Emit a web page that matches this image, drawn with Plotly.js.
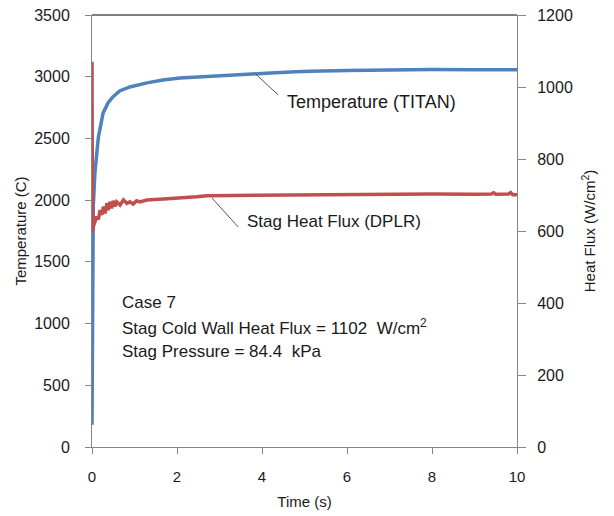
<!DOCTYPE html>
<html>
<head>
<meta charset="utf-8">
<script src="https://cdn.plot.ly/plotly-3.0.1.min.js"></script>
<style>html,body{margin:0;padding:0;background:#fff;}#chart{width:614px;height:516px;}</style>
</head>
<body>
<div id="chart"></div>
<script>
// Temperature (TITAN), left axis, deg C
const tempTime = [0, 0.005, 0.012, 0.03, 0.07, 0.15, 0.26, 0.38, 0.49, 0.65, 0.89, 1.1, 1.29, 1.67, 2.07, 2.5, 2.85, 3.2, 3.64, 4.2, 4.8, 5.13, 6.0, 7.2, 8.0, 9.0, 10.0];
const tempValues = [180, 900, 1700, 1950, 2230, 2510, 2705, 2790, 2836, 2885, 2917, 2935, 2950, 2974, 2990, 2998, 3006, 3012, 3022, 3030, 3040, 3045, 3050, 3058, 3058, 3057, 3056];

// Stag Heat Flux (DPLR), right axis, W/cm2
const fluxTime = [0, 0.004, 0.01, 0.03, 0.06, 0.11, 0.15, 0.19, 0.23, 0.27, 0.31, 0.35, 0.38, 0.42, 0.46, 0.5, 0.54, 0.58, 0.66, 0.74, 0.82, 0.89, 0.97, 1.05, 1.13, 1.29, 1.68, 2.07, 2.46, 2.7, 3.5, 4.5, 5.5, 6.5, 7.2, 8.0, 9.0, 9.4, 9.45, 9.5, 9.8, 9.85, 9.9, 10.0];
const fluxValues = [1070, 800, 598, 612, 625, 640, 632, 658, 645, 668, 649, 677, 658, 681, 663, 684, 668, 681, 672, 686, 677, 681, 675, 684, 681, 686, 689, 691, 695, 698, 699, 700, 701, 701, 703, 703, 702, 703, 706, 702, 703, 707, 701, 701];

const xTicks = [0, 2, 4, 6, 8, 10];
const yTicks = [0, 500, 1000, 1500, 2000, 2500, 3000, 3500];
const y2Ticks = [0, 200, 400, 600, 800, 1000, 1200];

const FONT = 'Liberation Sans, Arial, sans-serif';
const TXT = '#1a1a1a';
const AX = '#868686';

const traces = [
  {x: tempTime, y: tempValues, type: 'scatter', mode: 'lines', name: 'Temperature (TITAN)',
   line: {color: '#4F81BD', width: 3.5}, yaxis: 'y'},
  {x: fluxTime, y: fluxValues, type: 'scatter', mode: 'lines', name: 'Stag Heat Flux (DPLR)',
   line: {color: '#C0504D', width: 3.5}, yaxis: 'y2'}
];

const layout = {
  width: 614, height: 516,
  margin: {l: 92, r: 97, t: 15, b: 69},
  paper_bgcolor: '#fff', plot_bgcolor: '#fff',
  showlegend: false,
  font: {family: FONT, color: TXT, size: 16},
  xaxis: {
    range: [0, 10], tickvals: xTicks, ticktext: xTicks.map(String),
    showline: true, linecolor: AX, linewidth: 1, ticks: 'outside', ticklen: 6, tickcolor: AX,
    showgrid: false, zeroline: false, tickfont: {size: 15}, ticklabelstandoff: 10,
    title: {text: 'Time (s)', font: {size: 15}, standoff: 12}
  },
  yaxis: {
    range: [0, 3500], tickvals: yTicks, ticktext: yTicks.map(String),
    showline: true, linecolor: AX, linewidth: 1, ticks: 'outside', ticklen: 6, tickcolor: AX,
    showgrid: false, zeroline: false, tickfont: {size: 16}, ticklabelstandoff: 12,
    title: {text: 'Temperature (C)', font: {size: 15}, standoff: 3}
  },
  yaxis2: {
    range: [0, 1200], tickvals: y2Ticks, ticktext: y2Ticks.map(String),
    overlaying: 'y', side: 'right',
    showline: true, linecolor: AX, linewidth: 1, ticks: 'outside', ticklen: 8, tickcolor: AX,
    showgrid: false, zeroline: false, tickfont: {size: 16}, ticklabelstandoff: 8,
    title: {text: 'Heat Flux (W/cm<sup>2</sup>)', font: {size: 15}, standoff: 12}
  },
  shapes: [
    {type: 'line', xref: 'paper', yref: 'paper', x0: 0, x1: 1, y0: 1, y1: 1, line: {color: '#000', width: 1}},
    {type: 'line', xref: 'x', yref: 'y', x0: 3.84, y0: 3025, x1: 4.38, y1: 2853, line: {color: '#555', width: 1}},
    {type: 'line', xref: 'x', yref: 'y2', x0: 2.82, y0: 692, x1: 3.44, y1: 611, line: {color: '#555', width: 1}}
  ],
  annotations: [
    {xref: 'x', yref: 'y', x: 4.54, y: 2796, text: 'Temperature (TITAN)', showarrow: false,
     xanchor: 'left', yanchor: 'middle', font: {size: 18}},
    {xref: 'x', yref: 'y', x: 3.6, y: 1823, text: 'Stag Heat Flux (DPLR)', showarrow: false,
     xanchor: 'left', yanchor: 'middle', font: {size: 17}},
    {xref: 'x', yref: 'y', x: 0.66, y: 1167, text: 'Case 7', showarrow: false,
     xanchor: 'left', yanchor: 'middle', font: {size: 17}},
    {xref: 'x', yref: 'y', x: 0.66, y: 972, text: 'Stag Cold Wall Heat Flux = 1102  W/cm<sup>2</sup>', showarrow: false,
     xanchor: 'left', yanchor: 'middle', font: {size: 17}},
    {xref: 'x', yref: 'y', x: 0.66, y: 770, text: 'Stag Pressure = 84.4  kPa', showarrow: false,
     xanchor: 'left', yanchor: 'middle', font: {size: 17}}
  ]
};

Plotly.newPlot('chart', traces, layout, {displayModeBar: false, staticPlot: true});
</script>
</body>
</html>
